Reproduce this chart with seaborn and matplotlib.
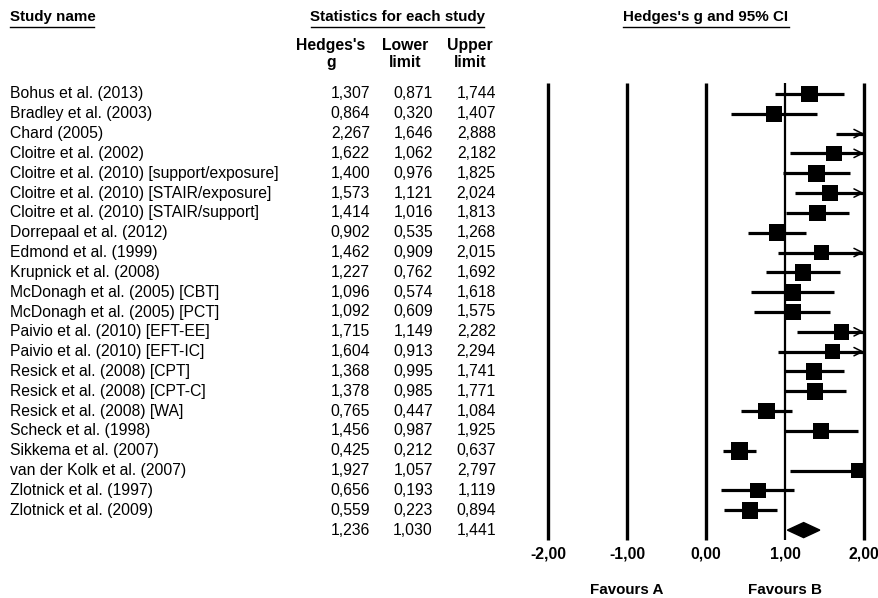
import matplotlib
matplotlib.use("Agg")
import matplotlib.pyplot as plt
from matplotlib.lines import Line2D
from matplotlib.patches import Polygon
import seaborn as sns
import pandas as pd

studies = [
    "Bohus et al. (2013)", "Bradley et al. (2003)", "Chard (2005)",
    "Cloitre et al. (2002)", "Cloitre et al. (2010) [support/exposure]",
    "Cloitre et al. (2010) [STAIR/exposure]", "Cloitre et al. (2010) [STAIR/support]",
    "Dorrepaal et al. (2012)", "Edmond et al. (1999)", "Krupnick et al. (2008)",
    "McDonagh et al. (2005) [CBT]", "McDonagh et al. (2005) [PCT]",
    "Paivio et al. (2010) [EFT-EE]", "Paivio et al. (2010) [EFT-IC]",
    "Resick et al. (2008) [CPT]", "Resick et al. (2008) [CPT-C]",
    "Resick et al. (2008) [WA]", "Scheck et al. (1998)", "Sikkema et al. (2007)",
    "van der Kolk et al. (2007)", "Zlotnick et al. (1997)", "Zlotnick et al. (2009)",
]
g = [1.307, 0.864, 2.267, 1.622, 1.400, 1.573, 1.414, 0.902, 1.462, 1.227,
     1.096, 1.092, 1.715, 1.604, 1.368, 1.378, 0.765, 1.456, 0.425, 1.927,
     0.656, 0.559]
lower = [0.871, 0.320, 1.646, 1.062, 0.976, 1.121, 1.016, 0.535, 0.909, 0.762,
         0.574, 0.609, 1.149, 0.913, 0.995, 0.985, 0.447, 0.987, 0.212, 1.057,
         0.193, 0.223]
upper = [1.744, 1.407, 2.888, 2.182, 1.825, 2.024, 1.813, 1.268, 2.015, 1.692,
         1.618, 1.575, 2.282, 2.294, 1.741, 1.771, 1.084, 1.925, 0.637, 2.797,
         1.119, 0.894]
# relative weight (square size)
weight = [16, 15, 15, 15, 16, 15, 16, 16, 14, 16, 16, 16, 15, 14, 16, 16, 16,
          15, 17, 14, 15, 16]
summary = (1.236, 1.030, 1.441)
ticks = [-2, -1, 0, 1, 2]
tick_labels = ["-2,00", "-1,00", "0,00", "1,00", "2,00"]


def fmt(v):
    return f"{v:.3f}".replace(".", ",")


df = pd.DataFrame({"study": studies, "g": g, "lower": lower, "upper": upper,
                   "w": weight})
df["row"] = range(len(df))
n = len(df)

W, H = 879, 598
fig = plt.figure(figsize=(W / 100, H / 100), dpi=100)
plt.rcParams["font.family"] = ["Liberation Sans", "DejaVu Sans"]
fs = 11.3      # table text
fh = 10.9      # headers
ft = 11.3      # tick labels

ppu = 79.0
x0_px = 548 - 0.15 * ppu
y_top, y_bot = 83, 541
ylims = (n + 0.55, -0.55)

# forest axes
ax = fig.add_axes([x0_px / W, 1 - y_bot / H, 4.3 * ppu / W, (y_bot - y_top) / H])

for t in ticks:
    ax.vlines(t, -0.55, n + 0.5, color="black",
              lw=1.6 if t == 1 else 2.4, zorder=1)

clip_hi = df["upper"].clip(upper=2)
ax.hlines(df["row"], df["lower"], clip_hi, color="black", lw=2.3, zorder=2)
for _, r in df[df["upper"] > 2].iterrows():
    ax.annotate("", xy=(2.0, r["row"]), xytext=(1.9, r["row"]),
                arrowprops=dict(arrowstyle="->", lw=1.1, color="black",
                                mutation_scale=15, shrinkA=0, shrinkB=0),
                zorder=3)

vis = df[df["g"] <= 2]
sns.scatterplot(data=vis, x="g", y="row", marker="s", color="black",
                size="w", sizes={w: (w * 0.75) ** 2 for w in set(weight)},
                legend=False, edgecolor="black", linewidth=0, ax=ax, zorder=4)
ax.set_xlim(-2.15, 2.15)
ax.set_ylim(*ylims)
ax.axis("off")

est, lo, hi = summary
dh = 0.38
ax.add_patch(Polygon([(lo, n), (est, n - dh), (hi, n), (est, n + dh)],
                     closed=True, color="black", zorder=4))

for t, lab in zip(ticks, tick_labels):
    ax.text(t, n + 1.2, lab, ha="center", va="center", fontsize=ft,
            fontweight="bold")
ax.text(-1, n + 3.0, "Favours A", ha="center", va="center", fontsize=fh,
        fontweight="bold")
ax.text(1, n + 3.0, "Favours B", ha="center", va="center", fontsize=fh,
        fontweight="bold")

# table axes
at = fig.add_axes([0, 1 - y_bot / H, 540 / W, (y_bot - y_top) / H])
at.set_xlim(0, 540)
at.set_ylim(*ylims)
at.axis("off")
for _, r in df.iterrows():
    at.text(10, r["row"], r["study"], ha="left", va="center", fontsize=fs)
    at.text(370, r["row"], fmt(r["g"]), ha="right", va="center", fontsize=fs)
    at.text(433, r["row"], fmt(r["lower"]), ha="right", va="center", fontsize=fs)
    at.text(496, r["row"], fmt(r["upper"]), ha="right", va="center", fontsize=fs)
at.text(370, n, fmt(est), ha="right", va="center", fontsize=fs)
at.text(433, n, fmt(lo), ha="right", va="center", fontsize=fs)
at.text(496, n, fmt(hi), ha="right", va="center", fontsize=fs)


# headers
def header(x, y, s, ha, ul):
    fig.text(x / W, 1 - y / H, s, ha=ha, va="center", fontsize=fh,
             fontweight="bold")
    fig.add_artist(Line2D([ul[0] / W, ul[1] / W], [1 - (y + 9.5) / H] * 2,
                          color="black", lw=1.0))


header(10, 17, "Study name", "left", (10, 94))
header(398, 17, "Statistics for each study", "center", (311, 484))
header(706, 17, "Hedges's g and 95% CI", "center", (623, 789))

for x, s in [(331, "Hedges's\ng"), (405, "Lower\nlimit"), (470, "Upper\nlimit")]:
    fig.text(x / W, 1 - 54 / H, s, ha="center", va="center", fontsize=fs,
             fontweight="bold", linespacing=1.2)

fig.savefig("out.png", dpi=100)
